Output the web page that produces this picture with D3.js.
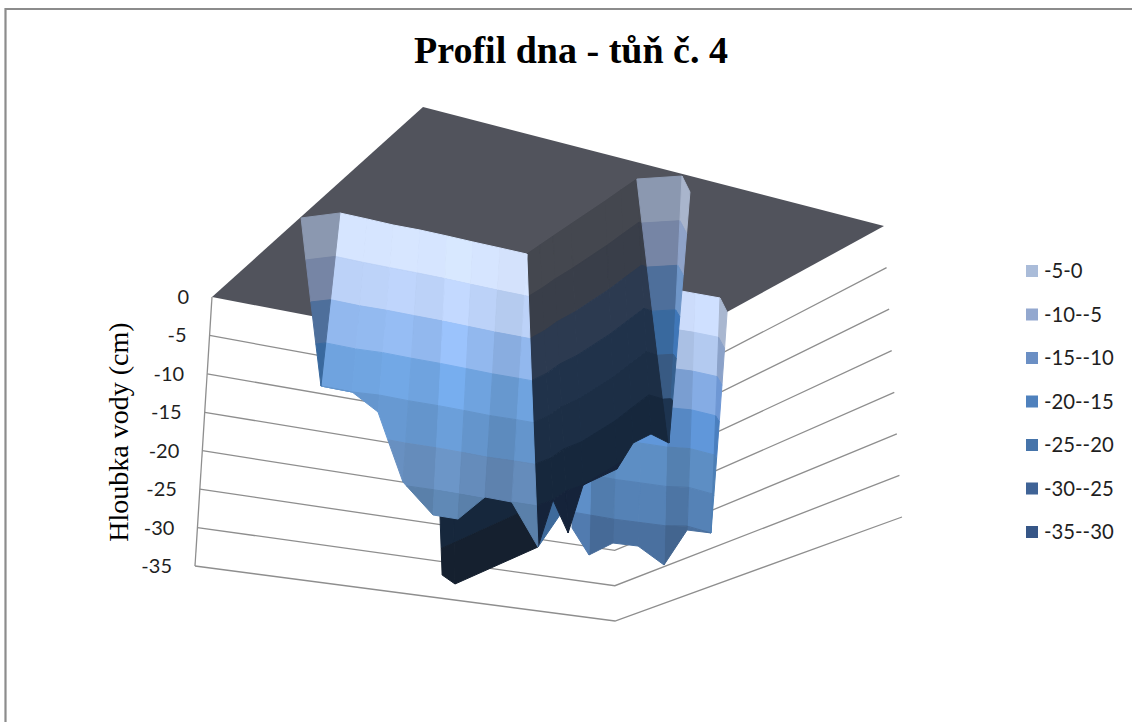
<!DOCTYPE html>
<html><head><meta charset="utf-8">
<script src="https://cdn.jsdelivr.net/npm/d3@7"></script>
<style>html,body{margin:0;background:#fff}svg{display:block}</style></head>
<body><svg id="chart" width="1132" height="722"></svg>
<script>
// Pond bottom profile: walls are given as stations [col, row, depth cm].
const titleText = "Profil dna - tůň č. 4";
const depthTitle = "Hloubka vody (cm)";
const depthTicks = [0, -5, -10, -15, -20, -25, -30, -35];
const legendLabels = ["-5-0", "-10--5", "-15--10", "-20--15", "-25--20", "-30--25", "-35--30"];
const legendColors = ["#aabcd9", "#93a8cf", "#6b8fc4", "#4f81bd", "#4674aa", "#3f6396", "#365687"];

// Far wall at the right of the pond
const farTop = [[15.14,8.61,0],[14.26,8.51,0],[13.38,8.42,0],[12.48,8.36,0],[11.58,8.31,0],[10.67,8.26,0],[9.81,8.13,0]];
const farBottom = [[14.98,7.88,-30],[13.93,8.23,-30.5],[13.32,7.79,-35],[12.43,7.74,-33],[11.58,7.65,-33],[10.71,7.67,-35],[10.06,7.76,-32]];
const farEdgeTop = [[15.14,8.61,0],[16.00,7.54,0]];
const farEdgeBottom = [[14.98,7.88,-30],[14.98,7.88,-30]];
// Deep pocket under the long wall
const pocketTop = [[7.88,2.38,-20],[8.03,3.11,-20],[8.41,8.15,-20]];
const pocketBottom = [[8.75,1.20,-33.2],[8.85,1.94,-35],[8.86,7.73,-35]];
// Small facet beside the deepest point
const facetTop = [[8.86,7.73,-35],[8.86,8.78,-30]];
const facetBottom = [[8.86,7.73,-35],[8.98,9.03,-32]];
// Steep dark side wall
const sideTop = [[7.94,8.64,0],[7.95,9.61,0],[7.96,10.57,0],[7.98,11.86,0],[8.02,14.34,0],[8.02,15.52,0],[8.03,16.69,0],[8.03,16.69,0]];
const sideBottom = [[8.86,7.73,-35],[8.86,8.78,-30],[8.83,9.90,-35],[8.83,10.96,-30],[8.62,13.78,-30.5],[8.35,15.50,-29],[8.12,17.26,-29.5],[8.79,17.10,-30]];
// Narrow column at the back
const columnTop = [[8.03,16.69,0],[9.07,17.83,0]];
const columnBottom = [[8.79,17.10,-30],[8.79,17.10,-30]];
const columnEdgeTop = [[9.07,17.83,0],[9.87,16.73,0]];
const columnEdgeBottom = [[8.79,17.10,-30],[8.79,17.10,-30]];
// Long lit wall
const longTop = [[1.03,8.55,0],[2.03,8.56,0],[3.01,8.55,0],[3.97,8.63,0],[4.97,8.64,0],[5.94,8.63,0],[6.94,8.64,0],[7.94,8.64,0],[7.94,8.64,0]];
const longBottom = [[0.83,7.98,-20],[1.98,7.94,-20],[2.88,8.07,-22],[3.97,7.80,-29.6],[5.09,7.76,-33],[6.00,7.73,-33],[6.94,7.75,-29.8],[7.86,7.84,-30],[8.86,7.73,-35]];
const longEdgeTop = [[0.04,7.51,0],[1.03,8.55,0]];
const longEdgeBottom = [[0.83,7.98,-20],[0.83,7.98,-20]];

const svg = d3.select("#chart");

// Box corners on screen, order: near-left, far-bottom, back, right
const cornersTop = [[212,297],[614,374],[423,107],[884,226]];
const cornersBottom = [[195,566],[615,621],[415,437],[902,517]];
const colScale = d3.scaleLinear().domain([0,16]).range([0,1]);
const rowScale = d3.scaleLinear().domain([0,18]).range([0,1]);
const depthScale = d3.scaleLinear().domain([0,-35]).range([0,1]);
function project([c, r, d]) {
  const u = colScale(c), v = rowScale(r), t = depthScale(d);
  return [0,1].map(k => {
    const at = q => q[0][k]*(1-u)*(1-v) + q[1][k]*u*(1-v) + q[2][k]*(1-u)*v + q[3][k]*u*v;
    return at(cornersTop)*(1-t) + at(cornersBottom)*t;
  });
}
const line = d3.line();

// Chart frame
svg.append("path").attr("d", "M5.5,722V9H1132").attr("fill","none").attr("stroke","#8c8c8c").attr("stroke-width",2.2);

svg.append("text").attr("x",571).attr("y",63).attr("text-anchor","middle")
  .attr("font-family","'Liberation Serif'").attr("font-weight","bold").attr("font-size",38).attr("fill","#000").text(titleText);

// Depth grid on the two back walls
depthTicks.slice(1).forEach(d => {
  svg.append("path").attr("d", line([project([0,0,d]), project([16,0,d]), project([16,18,d])]))
    .attr("fill","none").attr("stroke","#8e8e8e").attr("stroke-width",1.3);
});
svg.append("path").attr("d", line([project([0,0,0]), project([0,0,-35])]))
  .attr("fill","none").attr("stroke","#8e8e8e").attr("stroke-width",1.3);

svg.selectAll("text.tick").data(depthTicks).join("text").attr("class","tick")
  .attr("x", d => project([0,0,d])[0] - 23).attr("y", d => project([0,0,d])[1] + 7)
  .attr("text-anchor","end").attr("font-family","Lato").attr("font-size",20).attr("fill","#1f1f1f").text(d => d);

svg.append("text").attr("transform","translate(128,432) rotate(-90)").attr("text-anchor","middle")
  .attr("font-family","'Liberation Serif'").attr("font-size",28).attr("fill","#000").text(depthTitle);

// z = 0 plane
svg.append("path").attr("d", line([[0,0,0],[0,18,0],[16,18,0],[16,0,0]].map(project)) + "Z").attr("fill","#51535c");

// Keep the part of a polygon between two depths
function clipDepth(poly, lo, hi) {
  const cut = (pts, keep, level) => {
    const out = [];
    pts.forEach((p, i) => {
      const q = pts[(i+1) % pts.length], a = keep(p[2]), b = keep(q[2]);
      if (a) out.push(p);
      if (a !== b) {
        const t = (level - p[2]) / (q[2] - p[2]);
        out.push([p[0]+(q[0]-p[0])*t, p[1]+(q[1]-p[1])*t, level]);
      }
    });
    return out;
  };
  return cut(cut(poly, z => z <= hi, hi), z => z >= lo, lo);
}
const bands = d3.range(7).map(i => [-5*(i+1), -5*i]);

function drawWall(tops, bottoms, palette, shades) {
  d3.pairs(d3.range(tops.length)).forEach(([i, j], col) => {
    const quad = [tops[i], tops[j], bottoms[j], bottoms[i]];
    bands.forEach(([lo, hi], b) => {
      const piece = clipDepth(quad, lo, hi);
      if (piece.length < 3) return;
      // column shading shows less on the pale upper bands
      const base = d3.rgb(palette[b]), k = shades ? 1 + (shades[col] - 1) * Math.min(1, (b + 0.5) / 3) : 1;
      const fill = d3.rgb(Math.min(255,base.r*k), Math.min(255,base.g*k), Math.min(255,base.b*k)).formatHex();
      svg.append("path").attr("d", line(piece.map(project)) + "Z").attr("fill", fill).attr("stroke", fill).attr("stroke-width", 1).attr("stroke-linejoin","round");
    });
  });
}

const litPalette = ["#d6e5ff","#bcd2f8","#92b8ee","#6fa3df","#6495cc","#658cbb","#5a80aa"];
const farPalette = ["#cfe0ff","#b3caf0","#85ace4","#6097da","#5d8ec4","#5582b6","#4a709f"];
const darkPalette = ["#44474f","#393e49","#2c3a50","#20324a","#1c2e45","#16273c","#15233a"];
const pocketPalette = darkPalette.map((c,i) => i === 6 ? "#15202f" : c);
const greyPalette = ["#8b98b0","#7685a5","#4e6f9b","#39699e","#385a83","#1d3450","#1d3450"];
const edgePalette = ["#a9b5cc","#8fa3c9","#6f96c8","#3f77b8","#36608f","#1d3450","#1d3450"];
const facetPalette = d3.range(7).map(() => "#3e6a9b");

drawWall(farTop, farBottom, farPalette, [1, 0.9, 1, 1, 0.95, 1.1]);
drawWall(farEdgeTop, farEdgeBottom, ["#a9b7d0","#8ba2c9","#6e97d4","#4a7fbf","#4d7fb5","#4d7fb5","#4d7fb5"]);
drawWall(pocketTop, pocketBottom, pocketPalette);
drawWall(facetTop, facetBottom, facetPalette);
drawWall(sideTop, sideBottom, darkPalette);
drawWall(columnTop, columnBottom, greyPalette);
drawWall(columnEdgeTop, columnEdgeBottom, edgePalette);
drawWall(longTop, longBottom, litPalette, [1, 1.01, 1.03, 1.0, 1.07, 1.0, 0.93, 1.0, 1.07]);
drawWall(longEdgeTop, longEdgeBottom, greyPalette);

// Legend
const legendY = d3.scalePoint().domain(legendLabels).range([271, 532]);
const legend = svg.selectAll("g.legend").data(legendLabels).join("g").attr("class","legend")
  .attr("transform", d => `translate(1026,${legendY(d)})`);
legend.append("rect").attr("x",0).attr("y",-6).attr("width",12).attr("height",12).attr("fill",(d,i) => legendColors[i]);
legend.append("text").attr("x",18).attr("y",7).attr("font-family","Lato").attr("font-size",20.3).attr("fill","#1f1f1f").text(d => d);
</script></body></html>
